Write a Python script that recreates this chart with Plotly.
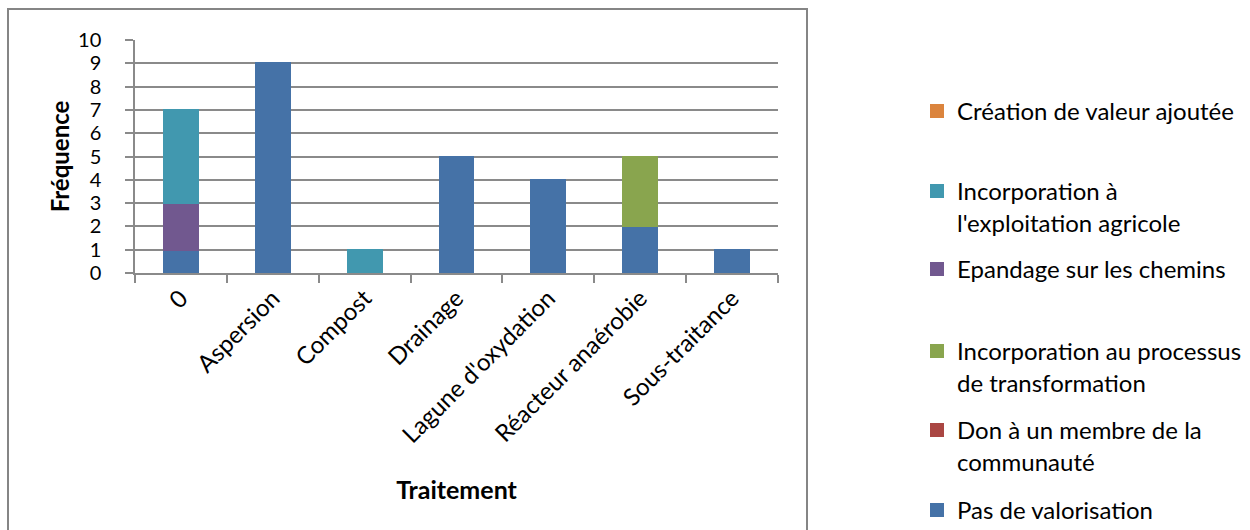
import plotly.graph_objects as go

# ---- data -------------------------------------------------------------
categories = ["0", "Aspersion", "Compost", "Drainage",
              "Lagune d'oxydation", "Réacteur anaérobie", "Sous-traitance"]

# stacked from bottom to top (None = no bar for that category)
pas_de_valorisation = [1, 9, None, 5, 4, 2, 1]
don_membre = [None, None, None, None, None, None, None]
incorporation_processus = [None, None, None, None, None, 3, None]
epandage_chemins = [2, None, None, None, None, None, None]
incorporation_agricole = [4, None, 1, None, None, None, None]
creation_valeur = [None, None, None, None, None, None, None]

series_names = [
    "Pas de valorisation",
    "Don à un membre de la<br>communauté",
    "Incorporation au processus<br>de transformation",
    "Epandage sur les chemins",
    "Incorporation à<br>l'exploitation agricole",
    "Création de valeur ajoutée",
]
series_values = [pas_de_valorisation, don_membre, incorporation_processus,
                 epandage_chemins, incorporation_agricole, creation_valeur]
series_colors = ["#4572A7", "#AA4643", "#89A54E", "#71588F", "#4198AF", "#DB843D"]

y_ticks = [0, 1, 2, 3, 4, 5, 6, 7, 8, 9, 10]

# ---- layout constants (pixels) ------------------------------------------
FONT = "Lato"
GRID = "#8a8a8a"
PLOT_L, PLOT_R, PLOT_T, PLOT_B = 135, 778, 40, 273
PW, PH = PLOT_R - PLOT_L, PLOT_B - PLOT_T
LEGEND_LEFT = 917
# top of each legend entry (one legend box per series, as laid out in the source)
legend_tops = [488, 408, 329, 247, 169, 89]
legend_ids = ["legend", "legend2", "legend3", "legend4", "legend5", "legend6"]

fig = go.Figure()
for name, vals, col, lid in zip(series_names, series_values, series_colors, legend_ids):
    fig.add_trace(go.Bar(
        x=categories, y=vals, name=name, legend=lid,
        marker=dict(color=col, line=dict(color=col, width=2)),
        hoverinfo="x+y+name",
    ))

legend_layout = {}
for lid, top in zip(legend_ids, legend_tops):
    legend_layout[lid] = dict(
        x=(LEGEND_LEFT - PLOT_L) / PW, xanchor="left",
        y=(PLOT_B - top) / PH, yanchor="top",
        valign="top",
        font=dict(family=FONT, size=24, color="#000000"),
        bgcolor="rgba(0,0,0,0)",
    )

fig.update_layout(
    width=1250, height=530,
    barmode="stack", bargap=0.63,
    plot_bgcolor="white", paper_bgcolor="white",
    margin=dict(l=PLOT_L, r=1250 - PLOT_R, t=PLOT_T, b=530 - PLOT_B, autoexpand=False),
    font=dict(family=FONT, color="#000000"),
    showlegend=True,
    xaxis=dict(
        type="category",
        showline=True, linecolor=GRID, linewidth=1.5,
        ticks="outside", tickson="boundaries", ticklen=8,
        tickcolor=GRID, tickwidth=1.5,
        tickangle=-45,
        tickfont=dict(family=FONT, size=24, color="#000000"),
        showgrid=False,
        title=dict(text="<b>Traitement</b>",
                   font=dict(family=FONT, size=25, color="#000000"),
                   standoff=35),
        automargin=True,
    ),
    yaxis=dict(
        range=[0, 10], tickvals=y_ticks,
        showline=True, linecolor=GRID, linewidth=1.5,
        ticks="outside", ticklen=8, tickcolor=GRID, tickwidth=1.5,
        ticklabelstandoff=20,
        tickfont=dict(family=FONT, size=20, color="#000000"),
        showgrid=True, gridcolor=GRID, gridwidth=1.5,
        zeroline=False,
        title=dict(text="<b>Fréquence</b>",
                   font=dict(family=FONT, size=24, color="#000000"),
                   standoff=2),
        automargin=True,
    ),
    shapes=[dict(
        type="rect", xref="paper", yref="paper",
        x0=(8 - PLOT_L) / PW, x1=(807 - PLOT_L) / PW,
        y0=-2.0, y1=(PLOT_B - 9) / PH,
        line=dict(color="#858585", width=2), fillcolor="rgba(0,0,0,0)",
        layer="below",
    )],
    **legend_layout,
)

fig.write_html("out.html")
